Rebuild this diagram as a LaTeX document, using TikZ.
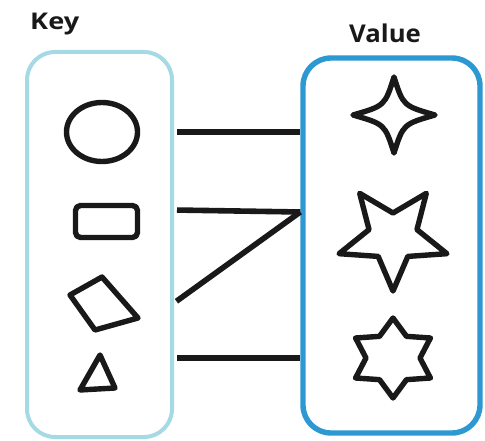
\documentclass[tikz,border=0pt]{standalone}
\usepackage{fontspec}
\setmainfont{Open Sans}
\usetikzlibrary{shapes.geometric,calc}
\definecolor{keyframe}{RGB}{165,218,228}
\definecolor{valframe}{RGB}{45,152,210}
\definecolor{ink}{RGB}{25,25,25}
\tikzset{
  group/.style={draw, rounded corners=28pt, inner sep=0pt},
  glyph/.style={draw=ink, line width=5.4pt, line join=round, fill=none},
  link/.style={draw=ink, line width=5.6pt},
  title/.style={font=\bfseries\fontsize{23}{26}\selectfont, text=ink, inner sep=0pt, anchor=base west}
}
\begin{document}
\begin{tikzpicture}[x=1pt, y=-1pt]
  \useasboundingbox (0,0) rectangle (485,441);

  % headings
  \node[title, xscale=1.18] (keylabel) at (30,30) {Key};
  \node[title, font=\bfseries\fontsize{24.5}{28}\selectfont, xscale=1.05] (vallabel) at (349,43) {Value};

  % the two groups
  \node[group, draw=keyframe, line width=4pt, minimum width=145pt, minimum height=385pt]
    (keybox) at (99.5,244.5) {};
  \node[group, draw=valframe, line width=5.4pt, minimum width=177pt, minimum height=375pt]
    (valbox) at (391.5,245.5) {};

  % keys
  \node[glyph, ellipse, minimum width=71pt, minimum height=59pt, inner sep=0pt] (oval) at (102,132) {};
  \node[glyph, rectangle, rounded corners=5pt, minimum width=62pt, minimum height=32pt, inner sep=0pt] (pill) at (106.5,221.5) {};
  \draw[glyph] (102,277) -- (70,295) -- (95,330) -- (138,318) -- cycle;
  \coordinate (kite) at (104,303);
  \draw[glyph] (100,355) -- (80,390) -- (115,388) -- cycle;

  % values
  \begin{scope}[shift={(394,115)}]
    \coordinate (sparkle) at (0,0);
    \draw[glyph] (90:38) .. controls (45:13) .. (0:41) .. controls (-45:13) .. (270:38)
      .. controls (225:13) .. (180:41) .. controls (135:13) .. (90:38) -- cycle;
  \end{scope}
  \begin{scope}[shift={(393,237)}, xscale=1.05]
    \coordinate (pentastar) at (0,0);
    \draw[glyph] (90:54) -- (126:24) -- (162:54) -- (198:24) -- (234:54) -- (270:24)
      -- (306:54) -- (342:24) -- (18:54) -- (54:24) -- cycle;
  \end{scope}
  \begin{scope}[shift={(393,358)}, xscale=1.08]
    \coordinate (hexastar) at (0,0);
    \draw[glyph] (90:40) -- (120:25) -- (150:40) -- (180:25) -- (210:40) -- (240:25)
      -- (270:40) -- (300:25) -- (330:40) -- (0:25) -- (30:40) -- (60:25) -- cycle;
  \end{scope}

  % mapping
  \coordinate (hub) at (valbox.west |- 0,212);
  \draw[link, shorten <=3pt] (keybox.east |- oval) -- (valbox.west |- oval);
  \draw[link, shorten <=3pt] ($(keybox.east |- hub)+(0,-2)$) -- (hub);
  \draw[link, shorten <=3pt] (keybox.east |- kite) -- (hub);
  \draw[link, shorten <=3pt] (keybox.east |- hexastar) -- (valbox.west |- hexastar);
\end{tikzpicture}
\end{document}
